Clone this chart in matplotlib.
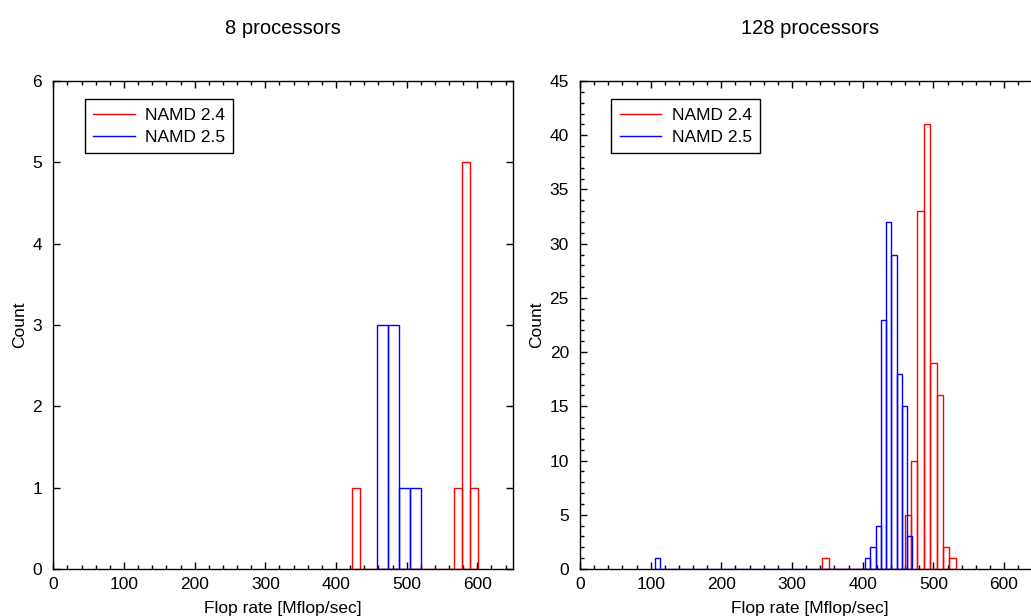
import matplotlib
matplotlib.use("Agg")
import matplotlib.pyplot as plt
from matplotlib.ticker import MultipleLocator, NullLocator
import numpy as np

plt.rcParams['font.family'] = ['Liberation Sans', 'DejaVu Sans']

# ---------------- data ----------------
panel_titles = ["8 processors", "128 processors"]
series_labels = ["NAMD 2.4", "NAMD 2.5"]
x_label = "Flop rate [Mflop/sec]"
y_label = "Count"

# 8 processors: histogram bins (start, width) and counts
p8_v24_start = 423.0
p8_v24_width = 11.1
p8_v24_counts = [1, 0, 0, 0, 0, 0, 0, 0, 0, 0, 0, 0, 0, 1, 5, 1]
p8_v25_start = 458.0
p8_v25_width = 15.6
p8_v25_counts = [3, 3, 1, 1]

# 128 processors
p128_v24_start = 342.8
p128_v24_width = 8.98
p128_v24_counts = [1, 0, 0, 0, 0, 0, 0, 0, 0, 0, 0, 0, 0,
                   5, 10, 33, 41, 19, 16, 2, 1]
p128_v25_start = 105.5
p128_v25_width = 7.445
p128_v25_counts = [1,
                   0, 0, 0, 0, 0, 0, 0, 0, 0, 0,
                   0, 0, 0, 0, 0, 0, 0, 0, 0, 0,
                   0, 0, 0, 0, 0, 0, 0, 0, 0, 0,
                   0, 0, 0, 0, 0, 0, 0, 0, 0,
                   1, 2, 4, 23, 32, 29, 18, 15, 3]

x_range = (0, 650)
y_ranges = [(0, 6), (0, 45)]
y_major = [1, 5]
y_minor = [None, 1]

colors = ["#ff0000", "#0000ff"]

# ---------------- figure ----------------
W, H = 1031, 616
fig = plt.figure(figsize=(W / 100, H / 100), dpi=100)

ax_w = 459.4 / W
ax_h = 488 / H
ax_b = (H - 569) / H
axes = [fig.add_axes([53.3 / W, ax_b, ax_w, ax_h]),
        fig.add_axes([580 / W, ax_b, ax_w, ax_h])]

panels = [
    [(p8_v24_start, p8_v24_width, p8_v24_counts),
     (p8_v25_start, p8_v25_width, p8_v25_counts)],
    [(p128_v24_start, p128_v24_width, p128_v24_counts),
     (p128_v25_start, p128_v25_width, p128_v25_counts)],
]

fs = 12.5
for i, ax in enumerate(axes):
    for (start, width, counts), col, lab in zip(panels[i], colors, series_labels):
        counts = np.asarray(counts)
        lefts = start + width * np.arange(len(counts))
        ax.bar(lefts, counts, width=width, align='edge', fill=False,
               edgecolor=col, linewidth=1.0, zorder=3)
        ax.plot([], [], color=col, linewidth=1.0, label=lab)

    ax.set_xlim(*x_range)
    ax.set_ylim(*y_ranges[i])
    ax.xaxis.set_major_locator(MultipleLocator(100))
    ax.xaxis.set_minor_locator(MultipleLocator(20))
    ax.yaxis.set_major_locator(MultipleLocator(y_major[i]))
    if y_minor[i]:
        ax.yaxis.set_minor_locator(MultipleLocator(y_minor[i]))
    else:
        ax.yaxis.set_minor_locator(NullLocator())

    ax.tick_params(which='both', direction='in', top=True, right=True,
                   color='black', width=1.0, labelsize=fs)
    ax.tick_params(which='major', length=4.8)
    ax.tick_params(which='minor', length=2.7)
    ax.tick_params(axis='x', which='major', pad=6)
    ax.tick_params(axis='y', which='major', pad=8)
    for sp in ax.spines.values():
        sp.set_color('black')
        sp.set_linewidth(1.0)
        sp.set_zorder(4)

    ax.set_xlabel(x_label, fontsize=fs, labelpad=6)
    ax.set_ylabel(y_label, fontsize=fs, labelpad=4)
    ax.set_title(panel_titles[i], fontsize=14.5, pad=34)

    leg = ax.legend(loc='upper left', bbox_to_anchor=(0.068, 0.9625),
                    borderaxespad=0, fontsize=fs, frameon=True, fancybox=False,
                    shadow=False, borderpad=0.48, labelspacing=0.4,
                    handlelength=2.4, handletextpad=0.6)
    fr = leg.get_frame()
    fr.set_edgecolor('black')
    fr.set_linewidth(1.0)
    fr.set_alpha(1.0)

fig.savefig("out.png", dpi=100)
